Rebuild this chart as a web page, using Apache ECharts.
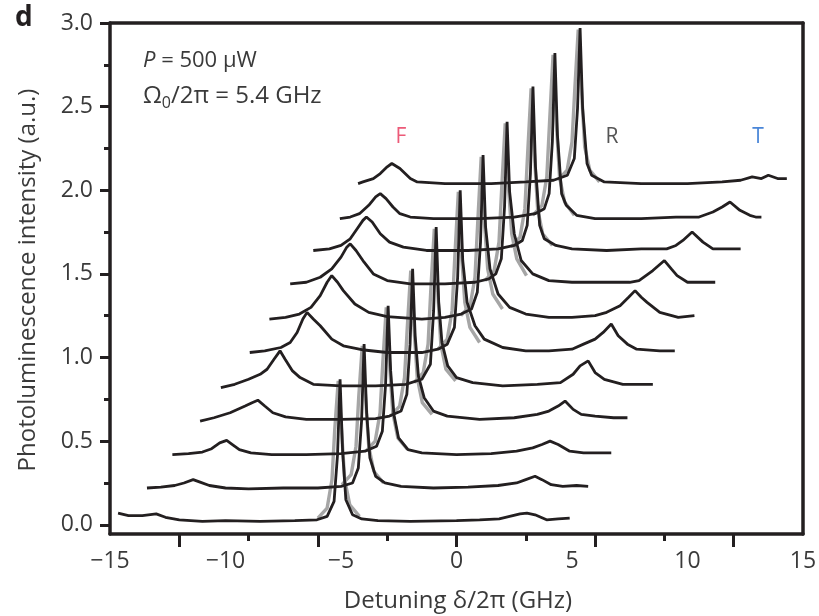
<!DOCTYPE html>
<html><head><meta charset="utf-8">
<script src="https://cdn.jsdelivr.net/npm/echarts@6/dist/echarts.min.js"></script>
<style>html,body{margin:0;padding:0;background:#fff}#c{width:819px;height:616px}</style>
</head><body><div id="c"></div>
<script>
// vertical offsets of the 11 stacked spectra (a.u.)
const offsets = [0.02, 0.22, 0.42, 0.63, 0.83, 1.03, 1.23, 1.44, 1.64, 1.83, 2.04];
// measured spectra: [detuning GHz, intensity above its offset]
const trace0 = [[-14.65,0.05],[-14.2,0.035],[-13.6,0.035],[-13.0,0.045],[-12.6,0.025],[-12.0,0.01],[-11.0,0.0],[-10.0,0.005],[-8.5,0.0],[-7.0,0.005],[-6.04,0.01],[-5.6,0.03],[-5.3,0.12],[-5.15,0.4],[-5.04,0.85],[-4.93,0.42],[-4.79,0.13],[-4.5,0.04],[-4.1,0.015],[-3.4,0.005],[-2.0,0.0],[0.0,0.005],[1.0,0.01],[1.85,0.015],[2.3,0.03],[2.75,0.045],[3.05,0.05],[3.4,0.04],[3.9,0.01],[4.4,0.015],[4.9,0.02]];
const trace1 = [[-13.4,0.0],[-12.8,0.005],[-12.2,0.015],[-11.8,0.03],[-11.4,0.05],[-11.1,0.035],[-10.7,0.015],[-10.0,0.0],[-9.0,-0.005],[-7.5,0.0],[-6.0,0.0],[-5.0,0.01],[-4.5,0.03],[-4.25,0.12],[-4.11,0.4],[-4.0,0.86],[-3.89,0.45],[-3.75,0.18],[-3.5,0.07],[-3.1,0.03],[-2.4,0.01],[-1.0,0.0],[0.5,0.005],[1.8,0.015],[2.6,0.03],[3.0,0.05],[3.4,0.07],[3.7,0.05],[4.1,0.02],[4.6,0.01],[5.2,0.015],[5.7,0.01]];
const trace2 = [[-12.3,0.0],[-11.6,0.005],[-11.0,0.015],[-10.6,0.035],[-10.25,0.07],[-9.95,0.085],[-9.7,0.06],[-9.4,0.03],[-8.9,0.01],[-8.0,0.0],[-6.5,0.0],[-5.0,0.005],[-3.96,0.02],[-3.46,0.05],[-3.21,0.14],[-3.07,0.42],[-2.96,0.89],[-2.85,0.5],[-2.71,0.24],[-2.51,0.1],[-2.1,0.03],[-1.5,0.01],[0,0.0],[1.5,0.005],[2.6,0.02],[3.3,0.04],[3.7,0.06],[4.05,0.08],[4.4,0.06],[4.9,0.02],[5.5,0.01],[6.2,0.01],[6.7,0.01]];
const trace3 = [[-11.1,-0.01],[-10.5,0.01],[-9.8,0.04],[-9.15,0.08],[-8.85,0.1],[-8.6,0.115],[-8.3,0.08],[-7.95,0.04],[-7.4,0.015],[-6.5,0.0],[-5.0,0.0],[-3.5,0.005],[-2.9,0.02],[-2.4,0.05],[-2.15,0.15],[-2.01,0.45],[-1.9,0.9],[-1.79,0.5],[-1.65,0.26],[-1.4,0.13],[-1.0,0.05],[-0.4,0.02],[1.0,0.0],[2.5,0.01],[3.5,0.03],[4.0,0.05],[4.4,0.08],[4.7,0.11],[5.05,0.06],[5.4,0.03],[6.0,0.02],[6.8,0.01],[7.4,0.01]];
const trace4 = [[-10.2,-0.01],[-9.6,0.01],[-9.0,0.04],[-8.5,0.07],[-8.2,0.1],[-7.9,0.16],[-7.64,0.21],[-7.42,0.16],[-7.1,0.09],[-6.77,0.05],[-6.2,0.01],[-5.0,0.0],[-3.5,0.0],[-2.2,0.01],[-1.5,0.04],[-1.13,0.13],[-0.99,0.45],[-0.88,0.95],[-0.77,0.5],[-0.63,0.26],[-0.38,0.12],[0.0,0.05],[0.7,0.02],[2.0,0.0],[3.5,0.01],[4.5,0.02],[5.05,0.07],[5.35,0.12],[5.7,0.15],[6.0,0.08],[6.4,0.04],[7.2,0.01],[8.0,0.01],[8.5,0.01]];
const trace5 = [[-8.95,0.0],[-8.3,0.01],[-7.6,0.03],[-7.2,0.06],[-6.9,0.12],[-6.65,0.2],[-6.47,0.24],[-6.2,0.2],[-5.9,0.16],[-5.4,0.08],[-4.9,0.04],[-4.0,0.015],[-3.0,0.0],[-1.5,0.0],[-0.8,0.02],[-0.4,0.05],[-0.09,0.15],[0.05,0.45],[0.16,0.97],[0.27,0.55],[0.46,0.3],[0.8,0.16],[1.2,0.08],[2.0,0.03],[3.0,0.01],[4.0,0.01],[5.0,0.02],[5.5,0.05],[6.0,0.08],[6.35,0.12],[6.7,0.17],[7.0,0.1],[7.4,0.05],[7.8,0.02],[8.8,0.01],[9.45,0.01]];
const trace6 = [[-8.1,0.0],[-7.4,0.01],[-6.8,0.03],[-6.3,0.07],[-5.9,0.14],[-5.6,0.22],[-5.4,0.26],[-5.15,0.22],[-4.9,0.17],[-4.4,0.09],[-3.8,0.04],[-3.0,0.015],[-1.5,0.0],[-0.5,0.01],[0.2,0.03],[0.65,0.06],[0.9,0.16],[1.04,0.46],[1.15,0.98],[1.26,0.55],[1.45,0.3],[1.8,0.15],[2.3,0.07],[3.0,0.03],[4.0,0.01],[5.0,0.01],[6.0,0.02],[6.5,0.04],[7.08,0.08],[7.45,0.13],[7.73,0.17],[8.0,0.13],[8.25,0.1],[8.8,0.04],[9.6,0.01],[10.3,0.02]];
const trace7 = [[-7.2,0.0],[-6.5,0.01],[-5.9,0.04],[-5.4,0.09],[-5.0,0.16],[-4.75,0.22],[-4.6,0.24],[-4.35,0.2],[-4.0,0.13],[-3.6,0.06],[-3.0,0.02],[-2.0,0.0],[-0.5,0.0],[0.8,0.01],[1.4,0.03],[1.7,0.06],[1.94,0.15],[2.08,0.46],[2.19,0.97],[2.3,0.55],[2.5,0.3],[2.8,0.14],[3.3,0.06],[4.0,0.02],[5.0,0.01],[6.5,0.01],[7.5,0.01],[7.9,0.02],[8.5,0.08],[9.0,0.14],[9.3,0.09],[9.55,0.05],[10.0,0.01],[10.6,0.01],[11.2,0.01]];
const trace8 = [[-6.2,0.0],[-5.5,0.01],[-5.0,0.03],[-4.6,0.07],[-4.3,0.13],[-4.05,0.18],[-3.9,0.2],[-3.65,0.17],[-3.3,0.1],[-2.9,0.05],[-2.3,0.02],[-1.3,0.0],[0.5,0.0],[1.8,0.01],[2.5,0.03],[2.85,0.06],[3.06,0.15],[3.2,0.46],[3.31,0.98],[3.42,0.5],[3.6,0.15],[3.8,0.07],[4.3,0.03],[5.0,0.01],[6.5,0.0],[8.0,0.01],[9.1,0.01],[9.5,0.03],[9.8,0.06],[10.2,0.11],[10.67,0.05],[11.1,0.01],[11.7,0.01],[12.3,0.01]];
const trace9 = [[-5.05,0.0],[-4.6,0.01],[-4.2,0.03],[-3.8,0.08],[-3.5,0.13],[-3.3,0.15],[-3.05,0.12],[-2.75,0.07],[-2.45,0.03],[-2.0,0.01],[-1.0,0.0],[1.0,0.0],[2.5,0.01],[3.4,0.03],[3.8,0.06],[4.01,0.15],[4.15,0.46],[4.26,0.99],[4.37,0.5],[4.55,0.15],[4.75,0.08],[5.2,0.02],[6.0,0.0],[8.0,0.0],[9.5,0.01],[10.5,0.01],[11.1,0.04],[11.5,0.07],[11.84,0.1],[12.27,0.05],[12.7,0.02],[12.95,0.01],[13.2,0.01]];
const trace10 = [[-4.26,0.0],[-4.05,0.01],[-3.6,0.03],[-3.3,0.06],[-3.0,0.1],[-2.8,0.12],[-2.45,0.09],[-2.0,0.03],[-1.7,0.01],[-0.5,0.0],[1.5,0.0],[3.0,0.01],[4.2,0.02],[4.8,0.05],[5.1,0.15],[5.24,0.45],[5.35,0.93],[5.46,0.45],[5.65,0.12],[5.85,0.05],[6.4,0.01],[8.0,0.0],[10.0,0.0],[11.5,0.01],[12.3,0.02],[12.8,0.04],[13.2,0.03],[13.5,0.05],[13.9,0.03],[14.3,0.03]];
const traces = [trace0, trace1, trace2, trace3, trace4, trace5, trace6, trace7, trace8, trace9, trace10];

// grey fitted central (R) peaks, same offsets
const fit0 = [[-6.0,0.02],[-5.6,0.08],[-5.39,0.25],[-5.27,0.55],[-5.12,0.84],[-4.98,0.55],[-4.84,0.25],[-4.62,0.1],[-4.2,0.03]];
const fit1 = [[-4.96,0.02],[-4.56,0.08],[-4.35,0.25],[-4.23,0.55],[-4.08,0.85],[-3.94,0.55],[-3.8,0.25],[-3.58,0.1],[-3.16,0.03]];
const fit2 = [[-3.92,0.02],[-3.52,0.08],[-3.31,0.25],[-3.19,0.55],[-3.04,0.88],[-2.9,0.55],[-2.76,0.25],[-2.54,0.1],[-2.12,0.03]];
const fit3 = [[-2.86,0.02],[-2.46,0.08],[-2.25,0.25],[-2.13,0.55],[-1.98,0.89],[-1.84,0.55],[-1.7,0.25],[-1.48,0.1],[-1.06,0.03]];
const fit4 = [[-1.84,0.02],[-1.44,0.08],[-1.23,0.25],[-1.11,0.58],[-0.96,0.94],[-0.82,0.58],[-0.68,0.25],[-0.46,0.1],[-0.04,0.03]];
const fit5 = [[-0.8,0.02],[-0.4,0.08],[-0.19,0.25],[-0.07,0.58],[0.08,0.96],[0.22,0.58],[0.36,0.3],[0.58,0.15],[1.0,0.06]];
const fit6 = [[0.19,0.02],[0.59,0.08],[0.8,0.25],[0.92,0.58],[1.07,0.97],[1.21,0.58],[1.35,0.3],[1.57,0.15],[1.99,0.06]];
const fit7 = [[1.23,0.02],[1.63,0.08],[1.84,0.25],[1.96,0.58],[2.11,0.96],[2.25,0.58],[2.39,0.3],[2.61,0.15],[3.03,0.05]];
const fit8 = [[2.35,0.02],[2.75,0.08],[2.96,0.25],[3.08,0.58],[3.23,0.97],[3.37,0.58],[3.51,0.25],[3.73,0.1],[4.15,0.03]];
const fit9 = [[3.3,0.02],[3.7,0.08],[3.91,0.25],[4.03,0.58],[4.18,0.98],[4.32,0.58],[4.46,0.25],[4.68,0.1],[5.1,0.02]];
const fit10 = [[4.39,0.02],[4.79,0.08],[5.0,0.25],[5.12,0.56],[5.27,0.92],[5.41,0.56],[5.55,0.22],[5.77,0.08],[6.19,0.01]];
const fits = [fit0, fit1, fit2, fit3, fit4, fit5, fit6, fit7, fit8, fit9, fit10];

// axis ticks and labels
const xTickLabels = [-15, -10, -5, 0, 5, 10, 15];
const xMajorTicks = [-12, -6, 0, 6, 12];
const xMinorTicks = [-9, -3, 3, 9];
const yTickLabels = [0, 0.5, 1, 1.5, 2, 2.5, 3];
const yMinorTicks = [0.25, 0.75, 1.25, 1.75, 2.25, 2.75];

const font = '"Open Sans", "DejaVu Sans", sans-serif';
const ink = '#231f20';
const txt = '#3a3a3a';
const lineAx = {show: true, onZero: false, lineStyle: {color: ink, width: 3.5}};

const chart = echarts.init(document.getElementById('c'), null, {renderer: 'canvas'});
const fitSeries = fits.map((t, i) => ({
  type: 'line', xAxisIndex: 0, yAxisIndex: 0, symbol: 'none', showSymbol: false,
  silent: true, animation: false, z: 1,
  data: t.map(p => [p[0], p[1] + offsets[i]]),
  lineStyle: {color: '#a6a6a6', width: 3.4}
}));
const dataSeries = traces.map((t, i) => ({
  type: 'line', xAxisIndex: 0, yAxisIndex: 0, symbol: 'none', showSymbol: false,
  silent: true, animation: false, z: 2,
  data: t.map(p => [p[0], p[1] + offsets[i]]),
  lineStyle: {color: ink, width: 2.8}
}));

chart.setOption({
  animation: false,
  backgroundColor: '#fff',
  grid: {left: 110, right: 16, top: 23, bottom: 82, containLabel: false, outerBoundsMode: 'none'},
  xAxis: [
    {type: 'value', position: 'bottom', min: -15, max: 15,
      axisLine: lineAx,
      axisTick: {show: true, customValues: xMajorTicks, length: 13, lineStyle: {color: ink, width: 3}},
      axisLabel: {show: true, customValues: xTickLabels, margin: 16, color: txt, fontSize: 23, fontFamily: font,
        formatter: v => (v < 0 ? '\u2212' + Math.abs(v) : String(v))},
      splitLine: {show: false}},
    {type: 'value', position: 'bottom', min: -15, max: 15,
      axisLine: {show: false, onZero: false},
      axisTick: {show: true, customValues: xMinorTicks, length: 7, lineStyle: {color: ink, width: 3}},
      axisLabel: {show: false}, splitLine: {show: false}},
    {type: 'value', position: 'top', min: -15, max: 15,
      axisLine: lineAx, axisTick: {show: false}, axisLabel: {show: false}, splitLine: {show: false}}
  ],
  yAxis: [
    {type: 'value', position: 'left', min: -0.055, max: 3,
      axisLine: lineAx,
      axisTick: {show: true, customValues: yTickLabels, length: 10, lineStyle: {color: ink, width: 3}},
      axisLabel: {show: true, customValues: yTickLabels, margin: 17, color: txt, fontSize: 23, fontFamily: font,
        formatter: v => v.toFixed(1)},
      splitLine: {show: false}},
    {type: 'value', position: 'left', min: -0.055, max: 3,
      axisLine: {show: false, onZero: false},
      axisTick: {show: true, customValues: yMinorTicks, length: 6, lineStyle: {color: ink, width: 3}},
      axisLabel: {show: false}, splitLine: {show: false}},
    {type: 'value', position: 'right', min: -0.055, max: 3,
      axisLine: lineAx, axisTick: {show: false}, axisLabel: {show: false}, splitLine: {show: false}}
  ],
  graphic: [
    {type: 'text', left: 15, top: 4, style: {text: 'd', fontSize: 28, fontWeight: 'bold', fontFamily: font, fill: ink}},
    {type: 'text', x: 143, y: 50, style: {text: '{i|P} = 500 μW', fontSize: 22, fontFamily: font, fill: txt,
      rich: {i: {fontStyle: 'italic', fontSize: 22, fontFamily: font, fill: txt}}}},
    {type: 'text', x: 143, y: 82, style: {text: 'Ω{s|0}/2π = 5.4 GHz', fontSize: 24, fontFamily: font, fill: txt,
      rich: {s: {fontSize: 16, fontFamily: font, fill: txt, padding: [13, 0, 0, 0]}}}},
    {type: 'text', x: 401, y: 137, style: {text: 'F', fontSize: 21, fontFamily: font, fill: '#ec5a78', align: 'center', verticalAlign: 'middle'}},
    {type: 'text', x: 612, y: 137, style: {text: 'R', fontSize: 21, fontFamily: font, fill: '#555', align: 'center', verticalAlign: 'middle'}},
    {type: 'text', x: 758, y: 137, style: {text: 'T', fontSize: 21, fontFamily: font, fill: '#4a86d8', align: 'center', verticalAlign: 'middle'}},
    {type: 'text', x: 28, y: 280, rotation: Math.PI / 2, style: {text: 'Photoluminescence intensity (a.u.)', fontSize: 24, fontFamily: font, fill: txt, align: 'center', verticalAlign: 'middle'}},
    {type: 'text', x: 458, y: 601, style: {text: 'Detuning δ/2π (GHz)', fontSize: 24, fontFamily: font, fill: txt, align: 'center', verticalAlign: 'middle'}}
  ],
  series: fitSeries.concat(dataSeries)
});
</script></body></html>
